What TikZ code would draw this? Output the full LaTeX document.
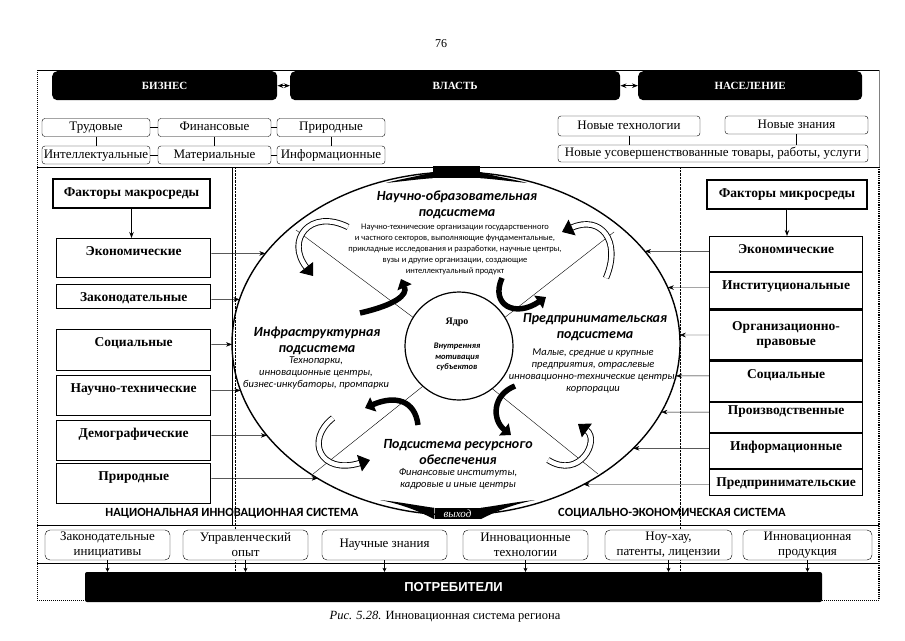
\documentclass[tikz,border=0pt]{standalone}
\usepackage{fontspec}
\setmainfont{Liberation Serif}
\newfontfamily\calib{Carlito}
\newfontfamily\arialf{Liberation Sans}
\usetikzlibrary{positioning,arrows.meta,shapes.geometric,intersections}

\begin{document}
\begin{tikzpicture}[x=1pt, y=-1pt, > = {Stealth[length=6pt,width=4.5pt]},
bar/.style={fill=black, text=white, rounded corners=5pt, anchor=north west, minimum height=29pt, inner sep=0pt, font=\bfseries\fontsize{11}{12}\selectfont},
resbox/.style={draw, fill=white, rounded corners=3pt, inner sep=1pt, text height=9.5pt, text depth=3pt, minimum height=18pt, font=\fontsize{13}{15}\selectfont},
outbox/.style={draw, fill=white, rounded corners=5pt, inner sep=1pt, minimum width=125pt, minimum height=30pt, align=center, font=\fontsize{13}{15}\selectfont},
facbox/.style={draw, line width=1.4pt, inner sep=2pt, minimum height=29pt, font=\bfseries\fontsize{13.5}{15}\selectfont},
macbox/.style={draw, line width=1.4pt, anchor=north west, minimum width=154pt, inner ysep=7pt, font=\bfseries\fontsize{13.5}{15}\selectfont},
micbox/.style={macbox, minimum width=153pt, line width=1.2pt},
toptext/.style={text height=10pt, text depth=#1},
sub/.style={font=\calib\bfseries\itshape\fontsize{14}{15.5}\selectfont, align=center, inner sep=0pt},
subtext/.style={font=\calib\itshape\fontsize{10.5}{12}\selectfont, align=center, inner sep=0pt},
caps/.style={font=\calib\bfseries\fontsize{12.5}{14}\selectfont, inner sep=0pt},
blkarrow/.style={line width=5.5pt, -{Triangle[length=9pt,width=15pt]}},
hollowarrow/.style={draw=black, double=white, double distance=4.5pt, line width=0.9pt, -{Triangle[length=11pt,width=17pt]}}]

\useasboundingbox (0,0) rectangle (905,640);

% frame
\draw[line width=0.8pt] (37,70) -- (879,70);
\draw[densely dotted, line width=1pt] (37,70) -- (37,600) -- (85,600);
\draw[densely dotted, line width=1pt] (822,600) -- (879,600);
\draw[gray, line width=0.6pt] (879,70) -- (879,167);
\draw[densely dotted, line width=1.2pt] (879,167) -- (879,600);
\draw (37,167) -- (879,167);
\draw (37,525) -- (879,525);
\draw[thin] (37,563) -- (879,563);
\draw (232,167) -- (232,525);
\draw[densely dotted] (235,167) -- (235,600);
\draw[densely dotted] (680,167) -- (680,600);

\node (pagenum) [font=\fontsize{12}{14}\selectfont] at (441,44) {76};

% top bars
\node (biz) [bar, minimum width=225pt] at (52,71) {БИЗНЕС};
\node (vlast) [bar, minimum width=330pt] at (290,71) {ВЛАСТЬ};
\node (pop) [bar, minimum width=224pt] at (638,71) {НАСЕЛЕНИЕ};
\draw[<->, line width=1.5pt] (biz) -- (vlast);
\draw[<->, line width=1.5pt] (vlast) -- (pop);

% resources
\node (trud) [resbox, minimum width=108pt] at (96,127.5) {Трудовые};
\node (fin) [resbox, minimum width=113pt] at (214.5,127.5) {Финансовые};
\node (prir) [resbox, minimum width=108pt] at (331,127.5) {Природные};
\node (intel) [resbox, minimum width=108pt] at (96,155) {Интеллектуальные};
\node (mat) [resbox, minimum width=113pt] at (214.5,155) {Материальные};
\node (inform) [resbox, minimum width=108pt] at (331,155) {Информационные};
\draw (trud) -- (fin);
\draw (fin) -- (prir);
\draw (intel) -- (mat);
\draw (mat) -- (inform);
\draw (trud) -- (intel);
\draw (fin) -- (mat);
\draw (prir) -- (inform);

\node (ntech) [resbox, minimum width=142pt, minimum height=20pt] at (629,126) {Новые технологии};
\node (nknow) [resbox, minimum width=143pt] at (796.5,125) {Новые знания};
\node (nprod) [resbox, minimum width=310pt, minimum height=17pt] at (713,153.5) {Новые усовершенствованные товары, работы, услуги};
\draw (ntech) -- (ntech |- nprod.north);
\draw (nknow) -- (nknow |- nprod.north);

% macro factors
\node (macro) [facbox, minimum width=157pt] at (131.5,193.5) {Факторы макросреды};
\node (lecon) [macbox, toptext=15pt] at (56,238) {Экономические};
\node (lzak) [macbox, toptext=0pt] at (56,284) {Законодательные};
\node (lsoc) [macbox, toptext=17pt] at (56,329) {Социальные};
\node (lsci) [macbox, toptext=16pt] at (56,375) {Научно-технические};
\node (ldem) [macbox, toptext=16pt] at (56,420) {Демографические};
\node (lnat) [macbox, toptext=16pt] at (56,463) {Природные};
\draw[->, line width=1.5pt] (macro.south) -- (macro.south |- lecon.north);

% micro factors
\node (micro) [facbox, minimum width=160pt] at (787,194.5) {Факторы микросреды};
\node (econr) [micbox, toptext=11pt] at (709,236) {Экономические};
\node (instr) [micbox, toptext=12pt] at (econr.south west) {Институциональные};
\node (orgr) [micbox, minimum height=50pt, align=center] at (instr.south west) {Организационно-\\правовые};
\node (socr) [micbox, toptext=16pt] at (orgr.south west) {Социальные};
\node (prodr) [micbox, toptext=16pt, inner ysep=2pt] at (socr.south west) {Производственные};
\node (infr) [micbox, toptext=11pt] at (prodr.south west) {Информационные};
\node (entr) [micbox, toptext=2pt] at (infr.south west) {Предпринимательские};
\draw[double, ->, line width=0.8pt] (micro.south) -- (micro.south |- econr.north);

% system
\draw[name path=ring, line width=1.4pt] (456,343.5) ellipse [x radius=224, y radius=171.5];
\node (core) [circle, draw, line width=1.2pt, minimum size=108pt] at (459,346) {};
\coordinate (ul) at (296,230);
\coordinate (ur) at (614,232);
\coordinate (ll) at (313,474);
\coordinate (lr) at (598,474);
\draw (core.148) -- (ul);
\draw (core.32) -- (ur);
\draw (core.228) -- (ll);
\draw (core.308) -- (lr);

\foreach \p in {lecon, lzak, lsoc, lsci, ldem, lnat}
{
\path[name path=ray] (\p.mid east) -- ++(150,0);
\draw[->, name intersections={of=ray and ring}] (\p.mid east) -- (intersection-1);
}
\foreach \p in {econr.mid west, instr.mid west, orgr.west, socr.mid west, prodr.mid west, infr.mid west, entr.mid west}
{
\path[name path=ray] (\p) -- ++(-150,0);
\draw[->, name intersections={of=ray and ring}] (\p) -- (intersection-1);
}

% flows
\draw[hollowarrow] (348,227) .. controls (310,208) and (285,240) .. (313,276);
\draw[hollowarrow] (606,278) .. controls (622,240) and (600,215) .. (562,232);
\draw[hollowarrow] (333,418) .. controls (305,440) and (320,475) .. (370,460);
\draw[hollowarrow] (548,460) .. controls (580,480) and (600,440) .. (578,424);
\draw[blkarrow] (360,313) .. controls (395,305) and (408,295) .. (401,279);
\draw[blkarrow] (502,278) .. controls (490,305) and (515,318) .. (546,297);
\draw[blkarrow] (418,425) .. controls (415,400) and (395,395) .. (365,408);
\draw[blkarrow] (515,386) .. controls (492,395) and (492,420) .. (511,435);

% entry and exit
\node (entry) [fill=black, minimum width=47pt, minimum height=12pt, inner sep=0pt] at (456.5,172) {};
\fill (entry.west) .. controls (420,176) and (400,179) .. (386,183) .. controls (405,181) and (420,179) .. (entry.south west) -- cycle;
\fill (entry.east) .. controls (493,176) and (513,179) .. (527,183) .. controls (508,181) and (493,179) .. (entry.south east) -- cycle;
\node (exit) [fill=black, text=white, font=\itshape\fontsize{11}{12}\selectfont, minimum width=46pt, minimum height=11pt, inner sep=0pt] at (457.5,513.5) {выход};
\fill (exit.north west) .. controls (420,506) and (400,502) .. (380,500) .. controls (405,505) and (420,512) .. (exit.south west) -- cycle;
\fill (exit.north east) .. controls (495,506) and (515,502) .. (535,500) .. controls (510,505) and (495,512) .. (exit.south east) -- cycle;

% texts
\node (nosub) [sub] at (457,205) {Научно-образовательная\\подсистема};
\node (notext) [font=\calib\fontsize{8.5}{11}\selectfont, align=center, inner sep=0pt] at (455,249) {Научно-технические организации государственного\\и частного секторов, выполняющие фундаментальные,\\прикладные исследования и разработки, научные центры,\\вузы и другие организации, создающие\\интеллектуальный продукт};
\node (infsub) [sub] at (317,341) {Инфраструктурная\\подсистема};
\node (inftext) [subtext] at (316,373) {Технопарки,\\инновационные центры,\\бизнес-инкубаторы, промпарки};
\node (entsub) [sub] at (595,327) {Предпринимательская\\подсистема};
\node (enttext) [subtext] at (593,371) {Малые, средние и крупные\\предприятия, отраслевые\\инновационно-технические центры,\\корпорации};
\node (ressub) [sub] at (458,452) {Подсистема ресурсного\\обеспечения};
\node (restext) [subtext] at (458,479) {Финансовые институты,\\кадровые и иные центры};
\node (coretitle) [font=\bfseries\fontsize{10}{11}\selectfont] at (457,322) {Ядро};
\node (coretext) [font=\calib\bfseries\itshape\fontsize{8.5}{10.5}\selectfont, align=center, inner sep=0pt] at (457,357) {Внутренняя\\мотивация\\субъектов};

\node (nislabel) [caps] at (232,513) {НАЦИОНАЛЬНАЯ ИННОВАЦИОННАЯ СИСТЕМА};
\node (seslabel) [caps] at (672,513) {СОЦИАЛЬНО-ЭКОНОМИЧЕСКАЯ СИСТЕМА};

% outputs
\node (lawin) [outbox] at (107.5,545) {Законодательные\\инициативы};
\node (mgmt) [outbox] at (245.5,545) {Управленческий\\опыт};
\node (sciknow) [outbox] at (384.5,545) {Научные знания};
\node (inntech) [outbox] at (525.5,545) {Инновационные\\технологии};
\node (knowhow) [outbox, minimum width=127pt] at (668.5,545) {Ноу-хау,\\патенты, лицензии};
\node (innprod) [outbox, minimum width=129pt] at (807.5,545) {Инновационная\\продукция};
\node (cons) [fill=black, text=white, font=\arialf\bfseries\fontsize{13}{15}\selectfont, minimum width=737pt, minimum height=30pt, inner sep=0pt, rounded corners=2pt] at (453.5,587) {ПОТРЕБИТЕЛИ};
\foreach \b in {lawin, mgmt, sciknow, inntech, knowhow, innprod}
{
\draw[-{Stealth[length=4pt,width=4pt]}] (\b.south) -- (\b.south |- cons.north);
}

\node (caption) [font=\fontsize{12.5}{14}\selectfont] at (445,617) {\textit{Рис. 5.28.} Инновационная система региона};

\end{tikzpicture}
\end{document}
